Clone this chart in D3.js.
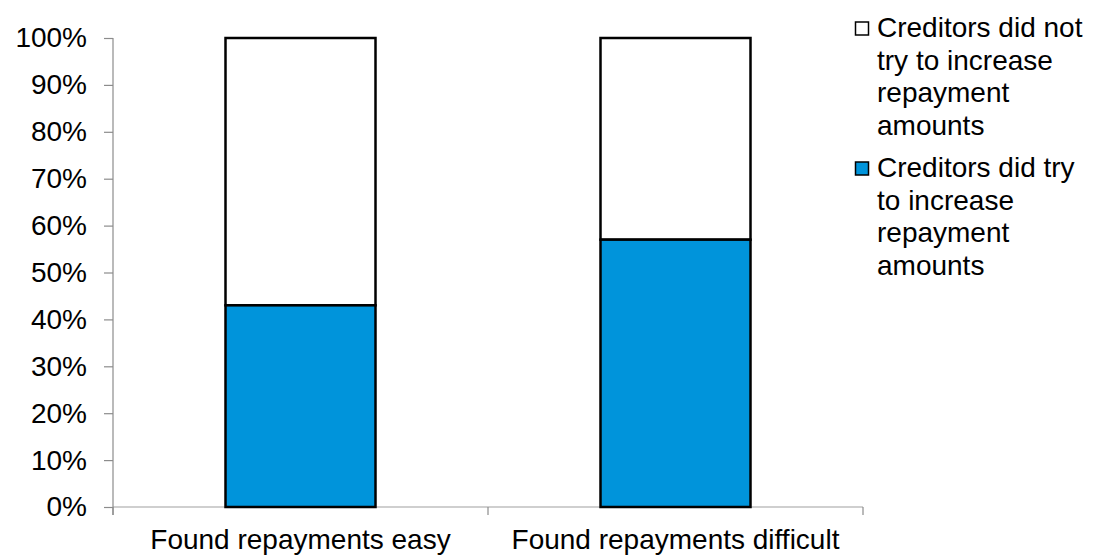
<!DOCTYPE html>
<html>
<head>
<meta charset="utf-8">
<script src="https://cdn.jsdelivr.net/npm/d3@7"></script>
<style>
  html, body { margin: 0; padding: 0; background: #fff; }
  svg { display: block; font-family: "Liberation Sans", Arial, sans-serif; }
</style>
</head>
<body>
<svg id="chart" width="1094" height="556"></svg>
<script>
// Share of respondents (%) by how they found repayments
const categories = ["Found repayments easy", "Found repayments difficult"];
const didTry = [43, 57];        // creditors did try to increase repayment amounts
const didNotTry = [57, 43];     // creditors did not try to increase repayment amounts
const yTicks = [0, 10, 20, 30, 40, 50, 60, 70, 80, 90, 100];
const seriesNames = [
  ["Creditors did not", "try to increase", "repayment", "amounts"],
  ["Creditors did try", "to increase", "repayment", "amounts"]
];
const seriesColors = ["#ffffff", "#0094db"];

const svg = d3.select("#chart");
const fontSize = 28;
const plotLeft = 113, plotRight = 863, plotTop = 38, plotBottom = 507;

const x = d3.scaleBand().domain(categories).range([plotLeft, plotRight]).padding(0);
const y = d3.scaleLinear().domain([0, 100]).range([plotBottom, plotTop]);
const barW = x.bandwidth() * 0.4;

// x axis baseline and category separators
svg.append("line")
  .attr("x1", plotLeft).attr("x2", plotRight).attr("y1", plotBottom).attr("y2", plotBottom)
  .attr("stroke", "#bfbfbf").attr("stroke-width", 1.5);
const bounds = [plotLeft, ...categories.slice(1).map(c => x(c)), plotRight];
svg.selectAll("line.sep").data(bounds).join("line")
  .attr("class", "sep")
  .attr("x1", d => d).attr("x2", d => d)
  .attr("y1", plotBottom).attr("y2", plotBottom + 8)
  .attr("stroke", "#8c8c8c").attr("stroke-width", 1.2);

// y axis
const yAxis = svg.append("g")
  .attr("transform", `translate(${plotLeft},0)`)
  .call(d3.axisLeft(y).tickValues(yTicks).tickFormat(d => d + "%").tickSize(9).tickPadding(17));
yAxis.select(".domain").remove();
yAxis.selectAll(".tick line").attr("stroke", "#8c8c8c").attr("stroke-width", 1.2);
yAxis.selectAll(".tick text")
  .attr("font-size", fontSize).attr("fill", "#000")
  .attr("font-family", "'Liberation Sans', Arial, sans-serif");
svg.append("line")
  .attr("x1", plotLeft).attr("x2", plotLeft).attr("y1", plotTop).attr("y2", plotBottom + 8)
  .attr("stroke", "#8c8c8c").attr("stroke-width", 1.2);

// stacked bars
const stacks = categories.map((c, i) => ({ c, a: didTry[i], b: didNotTry[i] }));
const g = svg.append("g");
stacks.forEach(s => {
  const cx = x(s.c) + x.bandwidth() / 2;
  g.append("rect")
    .attr("x", cx - barW / 2).attr("width", barW)
    .attr("y", y(s.a + s.b)).attr("height", y(s.a) - y(s.a + s.b))
    .attr("fill", seriesColors[0]).attr("stroke", "#000").attr("stroke-width", 2.5);
  g.append("rect")
    .attr("x", cx - barW / 2).attr("width", barW)
    .attr("y", y(s.a)).attr("height", y(0) - y(s.a))
    .attr("fill", seriesColors[1]).attr("stroke", "#000").attr("stroke-width", 2.5);
});

// category labels
svg.selectAll("text.cat").data(categories).join("text")
  .attr("class", "cat")
  .attr("x", d => x(d) + x.bandwidth() / 2)
  .attr("y", 549)
  .attr("text-anchor", "middle")
  .attr("font-size", fontSize)
  .text(d => d);

// legend
const legendTop = [37, 177];
const lineH = 32.7;
seriesNames.forEach((lines, i) => {
  const lg = svg.append("g");
  lg.append("rect")
    .attr("x", 855.5).attr("y", legendTop[i] - 15).attr("width", 13).attr("height", 13)
    .attr("fill", seriesColors[i]).attr("stroke", "#000").attr("stroke-width", 1.5);
  lines.forEach((t, j) => {
    lg.append("text")
      .attr("x", 877).attr("y", legendTop[i] + j * lineH)
      .attr("font-size", fontSize)
      .text(t);
  });
});
</script>
</body>
</html>
